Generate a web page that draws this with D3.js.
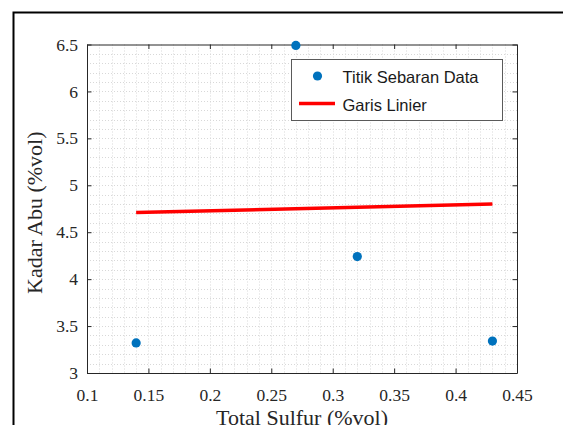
<!DOCTYPE html>
<html lang="en">
<head>
    <meta charset="UTF-8">
    <title>Kadar Abu vs Total Sulfur</title>
    <script src="https://d3js.org/d3.v7.min.js"></script>
    <style>
        body { margin: 0; background: #fff; }
        svg { display: block; }
        .axis path, .axis line { stroke: #262626; }
        .grid line { stroke: #d8d8d8; stroke-width: 1; stroke-dasharray: 1,2; }
    </style>
</head>
<body>
<div id="chart"></div>
<script>
    // data
    const sulfur = [0.14, 0.27, 0.32, 0.43];
    const abu = [3.32, 6.49, 4.24, 3.34];
    const fitX = [0.14, 0.43];
    const fitY = [4.71, 4.80];
    const xTicks = [0.1, 0.15, 0.2, 0.25, 0.3, 0.35, 0.4, 0.45];
    const yTicks = [3, 3.5, 4, 4.5, 5, 5.5, 6, 6.5];
    const legText = ['Titik Sebaran Data', 'Garis Linier'];

    const width = 563, height = 425;
    const plotL = 87, plotR = 517, plotT = 44.5, plotB = 373;
    const serif = '"Liberation Serif", "Times New Roman", serif';

    const svg = d3.select('#chart').append('svg')
        .attr('width', width)
        .attr('height', height);

    // outer figure frame
    svg.append('rect')
        .attr('x', 13.5).attr('y', 12.5)
        .attr('width', 700).attr('height', 600)
        .attr('fill', 'none').attr('stroke', '#000').attr('stroke-width', 2);

    const x = d3.scaleLinear().domain([0.1, 0.45]).range([plotL, plotR]);
    const y = d3.scaleLinear().domain([3, 6.5]).range([plotB, plotT]);

    // minor + major grid (dotted)
    const grid = svg.append('g').attr('class', 'grid');
    const minorX = d3.range(1, 35).map(i => 0.1 + i * 0.01);
    const minorY = d3.range(1, 35).map(i => 3 + i * 0.1);
    grid.selectAll('.gx').data(minorX).enter().append('line')
        .attr('x1', d => Math.round(x(d)) + 0.5).attr('x2', d => Math.round(x(d)) + 0.5)
        .attr('y1', plotT).attr('y2', plotB);
    grid.selectAll('.gy').data(minorY).enter().append('line')
        .attr('y1', d => Math.round(y(d)) + 0.5).attr('y2', d => Math.round(y(d)) + 0.5)
        .attr('x1', plotL).attr('x2', plotR);

    // axes with inward ticks on all four sides
    const fmt = d => String(d);
    const styleTicks = g => g.attr('font-family', serif).attr('font-size', 17.5)
        .selectAll('.tick text').attr('fill', '#262626');
    svg.append('g').attr('class', 'axis')
        .attr('transform', `translate(0,${plotB})`)
        .call(d3.axisBottom(x).tickValues(xTicks).tickFormat(fmt).tickSizeInner(-4.5).tickSizeOuter(0).tickPadding(16))
        .call(styleTicks);
    svg.append('g').attr('class', 'axis')
        .attr('transform', `translate(0,${plotT})`)
        .call(d3.axisTop(x).tickValues(xTicks).tickFormat('').tickSizeInner(-4.5).tickSizeOuter(0));
    svg.append('g').attr('class', 'axis')
        .attr('transform', `translate(${plotL},0)`)
        .call(d3.axisLeft(y).tickValues(yTicks).tickFormat(fmt).tickSizeInner(-4.5).tickSizeOuter(0).tickPadding(9))
        .call(styleTicks);
    svg.append('g').attr('class', 'axis')
        .attr('transform', `translate(${plotR},0)`)
        .call(d3.axisRight(y).tickValues(yTicks).tickFormat('').tickSizeInner(-4.5).tickSizeOuter(0));

    // fitted line
    const line = d3.line().x(d => x(d[0])).y(d => y(d[1]));
    svg.append('path')
        .datum(d3.zip(fitX, fitY))
        .attr('d', line)
        .attr('fill', 'none')
        .attr('stroke', '#ff0000')
        .attr('stroke-width', 3.5);

    // scatter points
    svg.selectAll('.pt').data(d3.zip(sulfur, abu)).enter().append('circle')
        .attr('cx', d => x(d[0]))
        .attr('cy', d => y(d[1]))
        .attr('r', 4.6)
        .attr('fill', '#0072BD');

    // axis labels
    svg.append('text')
        .attr('x', (plotL + plotR) / 2).attr('y', 425)
        .attr('text-anchor', 'middle')
        .style('font-family', serif).style('font-size', '22px').style('fill', '#262626')
        .text('Total Sulfur (%vol)');
    svg.append('text')
        .attr('transform', `translate(42,${(plotT + plotB) / 2 + 4}) rotate(-90)`)
        .attr('text-anchor', 'middle')
        .style('font-family', serif).style('font-size', '22px').style('fill', '#262626')
        .text('Kadar Abu (%vol)');

    // legend
    const lg = svg.append('g');
    lg.append('rect')
        .attr('x', 291.5).attr('y', 59.5).attr('width', 211).attr('height', 61)
        .attr('fill', '#fff').attr('stroke', '#5a5a5a').attr('stroke-width', 1);
    lg.append('circle').attr('cx', 317.5).attr('cy', 76).attr('r', 4.6).attr('fill', '#0072BD');
    lg.append('line').attr('x1', 299).attr('x2', 335).attr('y1', 103.5).attr('y2', 103.5)
        .attr('stroke', '#ff0000').attr('stroke-width', 3.5);
    lg.selectAll('.lt').data(legText).enter().append('text')
        .attr('x', 342.5)
        .attr('y', (d, i) => 82.5 + i * 28)
        .style('font-family', '"Liberation Sans", Arial, sans-serif')
        .style('font-size', '16.5px')
        .style('fill', '#1a1a1a')
        .text(d => d);
</script>
</body>
</html>
